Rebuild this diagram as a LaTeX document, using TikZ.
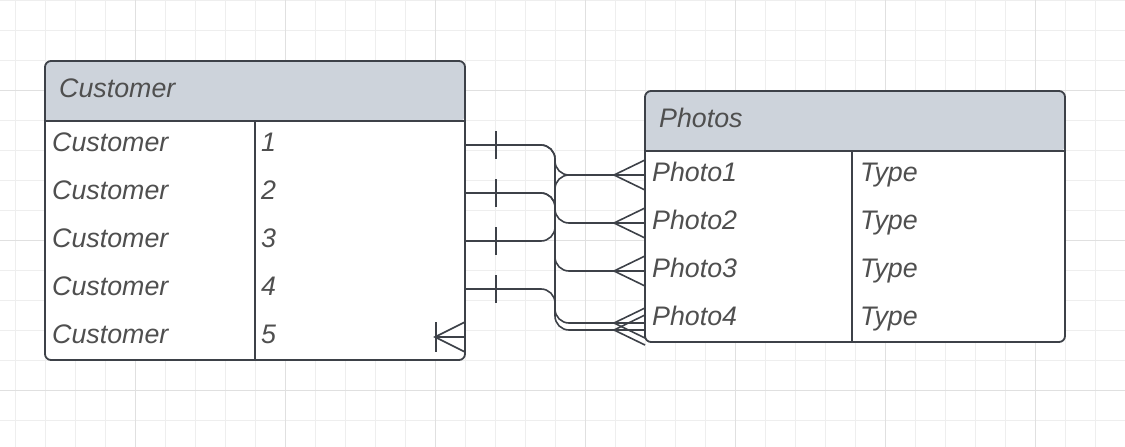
\documentclass[tikz,border=0pt]{standalone}
\usepackage{fontspec}
\setmainfont{Liberation Sans}
\usetikzlibrary{calc}
\definecolor{lineC}{HTML}{3D4148}
\definecolor{headC}{HTML}{CDD3DB}
\definecolor{textC}{HTML}{4F4F4F}
\definecolor{gridMinor}{HTML}{EEEEEE}
\definecolor{gridMajor}{HTML}{E0E0E0}
\tikzset{
  conn/.style={draw=lineC, line width=1.6pt, rounded corners=14pt},
  symline/.style={draw=lineC, line width=1.6pt},
  tableline/.style={draw=lineC, line width=1.8pt},
  txt/.style={font=\fontsize{26.8}{30}\selectfont\itshape, text=textC, inner sep=0pt, anchor=base west},
}
\begin{document}
\begin{tikzpicture}[x=1pt,y=-1pt]
\useasboundingbox (0,0) rectangle (1125,447);
% grid
\foreach \x in {15,45,...,1125} \draw[gridMinor, line width=1pt] (\x,0) -- (\x,447);
\foreach \y in {0,30,...,447} \draw[gridMinor, line width=1pt] (0,\y) -- (1125,\y);
\foreach \x in {135,285,...,1125} \draw[gridMajor, line width=1pt] (\x,0) -- (\x,447);
\foreach \y in {90,240,390} \draw[gridMajor, line width=1pt] (0,\y) -- (1125,\y);

% Customer table
\node[inner sep=0pt, minimum width=420pt, minimum height=299pt, anchor=north west] (cust) at (45,61) {};
\fill[white, rounded corners=6pt] (45,61) rectangle (465,360);
\fill[headC, rounded corners=6pt] (45,121) -- (45,61) -- (465,61) -- (465,121) [sharp corners] -- cycle;
\draw[tableline] (45,121) -- (465,121);
\draw[tableline] (255,121) -- (255,360);
\draw[tableline, rounded corners=6pt] (45,61) rectangle (465,360);
\node[txt] (custh) at (59,97) {Customer};
\foreach \i/\n in {1/1,2/2,3/3,4/4,5/5} {
  \node[txt] (cn\i) at (52,{151+48*(\i-1)}) {Customer};
  \node[txt] (cv\i) at (261,{151+48*(\i-1)}) {\n};
}

% Photos table
\node[inner sep=0pt, minimum width=420pt, minimum height=251pt, anchor=north west] (photos) at (645,91) {};
\fill[white, rounded corners=6pt] (645,91) rectangle (1065,342);
\fill[headC, rounded corners=6pt] (645,151) -- (645,91) -- (1065,91) -- (1065,151) [sharp corners] -- cycle;
\draw[tableline] (645,151) -- (1065,151);
\draw[tableline] (852,151) -- (852,342);
\draw[tableline, rounded corners=6pt] (645,91) rectangle (1065,342);
\node[txt] (photosh) at (659,127) {Photos};
\foreach \i in {1,2,3,4} {
  \node[txt] (pn\i) at (652,{181+48*(\i-1)}) {Photo\i};
  \node[txt] (pv\i) at (860,{181+48*(\i-1)}) {Type};
}

% anchor coordinates
\coordinate (bus) at (555,0);
\coordinate (c1) at (465,145);
\coordinate (c2) at (465,193);
\coordinate (c3) at (465,241);
\coordinate (c4) at (465,289);
\coordinate (c5) at (465,337);
\coordinate (p1) at (645,175);
\coordinate (p2) at (645,223);
\coordinate (p3) at (645,271);
\coordinate (p4a) at (645,323);
\coordinate (p4b) at (645,330);

% connectors
\draw[conn] (c1) -- (c1 -| bus) -- (bus |- p1) -- (p1);
\draw[conn] (c2) -- (c2 -| bus) -- (bus |- p2) -- (p2);
\draw[conn] (c3) -- (c3 -| bus) -- (bus |- p1) -- (p1);
\draw[conn] (c1) -- (c1 -| bus) -- (bus |- p3) -- (p3);
\draw[conn] (c4) -- (c4 -| bus) -- (bus |- p4a) -- (p4a);
\draw[conn] (c2) -- (c2 -| bus) -- (bus |- p4b) -- (p4b);

% one-marks at customer side
\foreach \c in {c1,c2,c3,c4}
  \draw[symline] ($(\c)+(31,-14)$) -- ($(\c)+(31,14)$);

% crow's feet at photos side
\foreach \p in {p1,p2,p3,p4a,p4b}
  \draw[symline] ($(\p)+(0,-15)$) -- ($(\p)+(-31,0)$) -- ($(\p)+(0,15)$);

% crow's foot with bar at customer 5
\draw[symline] (c5) -- ($(c5)+(-30,0)$);
\draw[symline] ($(c5)+(0,-15)$) -- ($(c5)+(-30,0)$) -- ($(c5)+(0,15)$);
\draw[symline] ($(c5)+(-29,-15)$) -- ($(c5)+(-29,15)$);
\end{tikzpicture}
\end{document}
